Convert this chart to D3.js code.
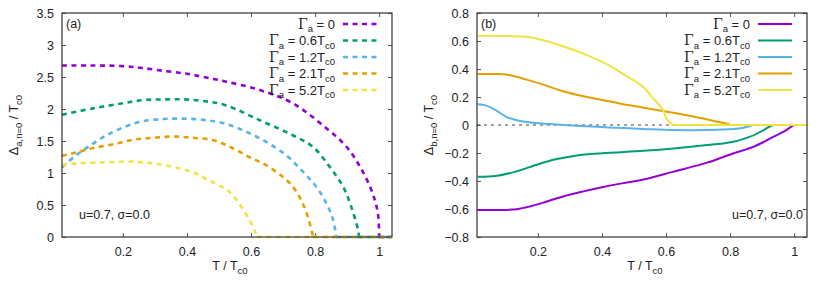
<!DOCTYPE html>
<html>
<head>
<meta charset="utf-8">
<script src="https://cdn.jsdelivr.net/npm/d3@7"></script>
<style>
  body { margin: 0; background: #fff; }
  svg { font-family: "Liberation Sans", Arial, sans-serif; }
</style>
</head>
<body>
<div id="chart"></div>
<script>
// legend labels / colours (gnuplot default palette)
const gammaLabels = ['0', '0.6', '1.2', '2.1', '5.2'];
const seriesColors = ['#9400d3', '#009e73', '#56b4e9', '#e69f00', '#f0e442'];

// panel (a): Delta_a vs T / Tc0
const tA0 = [0.01, 0.1, 0.2, 0.26, 0.337, 0.40, 0.452, 0.52, 0.625, 0.73, 0.835, 0.898, 0.94, 0.971, 0.988, 0.997, 1.0, 1.04];
const dA0 = [2.68, 2.68, 2.67, 2.64, 2.59, 2.55, 2.50, 2.43, 2.30, 2.09, 1.70, 1.41, 1.10, 0.79, 0.55, 0.33, 0, 0];
const tA1 = [0.01, 0.107, 0.2, 0.264, 0.327, 0.39, 0.452, 0.52, 0.625, 0.73, 0.793, 0.845, 0.887, 0.913, 0.934, 0.937, 1.04];
const dA1 = [1.91, 2.01, 2.09, 2.14, 2.15, 2.15, 2.125, 2.06, 1.83, 1.59, 1.41, 1.10, 0.79, 0.47, 0.11, 0, 0];
const tA2 = [0.01, 0.055, 0.107, 0.149, 0.2, 0.254, 0.316, 0.379, 0.452, 0.52, 0.583, 0.646, 0.709, 0.762, 0.803, 0.835, 0.856, 0.866, 1.04];
const dA2 = [1.09, 1.28, 1.46, 1.59, 1.71, 1.80, 1.84, 1.85, 1.83, 1.77, 1.65, 1.49, 1.28, 1.02, 0.79, 0.53, 0.27, 0, 0];
const tA3 = [0.01, 0.055, 0.107, 0.17, 0.233, 0.295, 0.358, 0.42, 0.484, 0.542, 0.594, 0.646, 0.699, 0.73, 0.756, 0.777, 0.791, 0.794, 1.04];
const dA3 = [1.27, 1.32, 1.39, 1.45, 1.52, 1.55, 1.57, 1.55, 1.51, 1.39, 1.25, 1.125, 0.94, 0.79, 0.58, 0.32, 0.06, 0, 0];
const tA4 = [0.01, 0.055, 0.107, 0.16, 0.222, 0.275, 0.327, 0.379, 0.42, 0.463, 0.505, 0.531, 0.562, 0.594, 0.615, 0.618, 1.04];
const dA4 = [1.125, 1.15, 1.16, 1.17, 1.18, 1.16, 1.125, 1.07, 1.01, 0.90, 0.79, 0.71, 0.53, 0.27, 0.06, 0, 0];

// panel (b): Delta_b vs T / Tc0
const tB0 = [0.012, 0.08, 0.135, 0.175, 0.214, 0.276, 0.339, 0.40, 0.463, 0.53, 0.624, 0.728, 0.811, 0.874, 0.936, 0.967, 0.988, 1.0, 1.04];
const dB0 = [-0.607, -0.607, -0.601, -0.582, -0.556, -0.512, -0.476, -0.445, -0.417, -0.39, -0.333, -0.269, -0.202, -0.155, -0.083, -0.048, -0.017, 0, 0];
const tB1 = [0.012, 0.068, 0.131, 0.193, 0.255, 0.318, 0.40, 0.53, 0.624, 0.728, 0.811, 0.863, 0.905, 0.926, 0.936, 1.04];
const dB1 = [-0.369, -0.364, -0.333, -0.286, -0.245, -0.219, -0.202, -0.184, -0.167, -0.143, -0.119, -0.083, -0.036, -0.007, 0, 0];
const tB2 = [0.012, 0.037, 0.068, 0.10, 0.131, 0.172, 0.234, 0.318, 0.421, 0.53, 0.624, 0.728, 0.811, 0.842, 0.863, 0.868, 1.04];
const dB2 = [0.148, 0.14, 0.107, 0.06, 0.036, 0.019, 0.007, -0.005, -0.017, -0.028, -0.036, -0.036, -0.029, -0.019, -0.005, 0, 0];
const tB3 = [0.012, 0.068, 0.11, 0.162, 0.214, 0.276, 0.339, 0.40, 0.463, 0.53, 0.603, 0.686, 0.749, 0.796, 0.80, 1.04];
const dB3 = [0.364, 0.364, 0.357, 0.326, 0.29, 0.243, 0.207, 0.179, 0.15, 0.124, 0.095, 0.06, 0.029, 0.005, 0, 0];
const tB4 = [0.012, 0.162, 0.214, 0.276, 0.339, 0.40, 0.463, 0.53, 0.551, 0.583, 0.593, 0.601, 0.614, 0.624, 1.04];
const dB4 = [0.638, 0.63, 0.607, 0.564, 0.512, 0.452, 0.369, 0.27, 0.214, 0.131, 0.095, 0.048, 0.012, 0, 0];

const xTicks = [0.2, 0.4, 0.6, 0.8, 1];
const yTicksA = [0, 0.5, 1, 1.5, 2, 2.5, 3, 3.5];
const yTicksB = [-0.8, -0.6, -0.4, -0.2, 0, 0.2, 0.4, 0.6, 0.8];

const width = 830, height = 291;
const svg = d3.select('#chart').append('svg')
  .attr('width', width)
  .attr('height', height);

function drawPanel(opts) {
  const g = svg.append('g').attr('transform', `translate(${opts.left}, 0)`);
  const plotW = 330, top = 13, bottom = 237;

  const x = d3.scaleLinear().domain([0.01, 1.04]).range([0, plotW]);
  const y = d3.scaleLinear().domain(opts.yDomain).range([bottom, top]);

  const ink = '#222';
  const tickLen = 4;

  // ticks (inward, mirrored like gnuplot)
  g.append('g').attr('transform', `translate(0, ${bottom})`)
    .call(d3.axisBottom(x).tickValues(xTicks).tickSize(-tickLen).tickPadding(10)
      .tickFormat(d => d3.format('')(d)));
  g.append('g').attr('transform', `translate(0, ${top})`)
    .call(d3.axisTop(x).tickValues(xTicks).tickSize(-tickLen).tickFormat(''));
  g.append('g')
    .call(d3.axisLeft(y).tickValues(opts.yTicks).tickSize(-tickLen).tickPadding(8)
      .tickFormat(d => d3.format('')(d).replace('-', '\u2212')));
  g.append('g').attr('transform', `translate(${plotW}, 0)`)
    .call(d3.axisRight(y).tickValues(opts.yTicks).tickSize(-tickLen).tickFormat(''));

  g.selectAll('.domain').remove();
  g.selectAll('.tick line').attr('stroke', '#555');
  g.selectAll('.tick text').attr('fill', ink).attr('font-size', 12.5);

  if (opts.zeroLine) {
    g.append('line')
      .attr('x1', 0).attr('x2', plotW)
      .attr('y1', y(0)).attr('y2', y(0))
      .attr('stroke', '#444').attr('stroke-width', 1)
      .attr('stroke-dasharray', '3,4');
  }

  const curve = d3.line()
    .x(d => x(d[0]))
    .y(d => y(d[1]))
    .curve(d3.curveCatmullRom.alpha(0.5));
  const flat = d3.line()
    .x(d => x(d[0]))
    .y(d => y(d[1]));

  opts.series.forEach((s, i) => {
    const pts = d3.zip(s[0], s[1]);
    const iz = s[1].indexOf(0);
    [[curve, pts.slice(0, iz + 1)], [flat, pts.slice(iz)]].forEach(([gen, seg]) => {
      g.append('path')
        .datum(seg)
        .attr('d', gen)
        .attr('fill', 'none')
        .attr('stroke', seriesColors[i])
        .attr('stroke-width', opts.dashed ? 2.6 : 2)
        .attr('stroke-dasharray', opts.dashed ? '5,4.5' : null);
    });
  });

  // frame
  g.append('rect')
    .attr('x', 0).attr('y', top)
    .attr('width', plotW).attr('height', bottom - top)
    .attr('fill', 'none').attr('stroke', '#333').attr('stroke-width', 1.2);

  // legend
  gammaLabels.forEach((lab, i) => {
    const ly = 24 + i * 16.5;
    const t = g.append('text')
      .attr('x', 273).attr('y', ly + 4.5)
      .attr('text-anchor', 'end')
      .attr('font-size', 13).attr('fill', ink);
    t.append('tspan').attr('font-family', '"DejaVu Serif", serif').attr('font-size', 14).text('\u0393');
    t.append('tspan').attr('font-size', 9.5).attr('dy', 3.5).text('a');
    if (lab === '0') {
      t.append('tspan').attr('dy', -3.5).text(' = 0');
    } else {
      t.append('tspan').attr('dy', -3.5).text(` = ${lab}T`);
      t.append('tspan').attr('font-size', 9.5).attr('dy', 3.5).text('c0');
    }
    g.append('line')
      .attr('x1', 281).attr('x2', 315)
      .attr('y1', ly).attr('y2', ly)
      .attr('stroke', seriesColors[i])
      .attr('stroke-width', opts.dashed ? 2.6 : 2)
      .attr('stroke-dasharray', opts.dashed ? '5,4.5' : null);
  });

  g.append('text')
    .attr('x', 4).attr('y', 28)
    .attr('font-size', 12.5).attr('fill', ink)
    .text(opts.tag);

  g.append('text')
    .attr('x', opts.noteX).attr('y', 219)
    .attr('text-anchor', opts.noteAnchor)
    .attr('font-size', 12.5).attr('fill', ink)
    .text('u=0.7, \u03c3=0.0');

  // x label
  const xl = g.append('text')
    .attr('x', plotW / 2 + 3).attr('y', 270)
    .attr('text-anchor', 'middle')
    .attr('font-size', 12.5).attr('fill', ink);
  xl.append('tspan').text('T / T');
  xl.append('tspan').attr('font-size', 9.5).attr('dy', 3.5).text('c0');

  // y label
  const yl = g.append('text')
    .attr('transform', `translate(${-44}, ${(top + bottom) / 2}) rotate(-90)`)
    .attr('text-anchor', 'middle')
    .attr('font-size', 12.5).attr('fill', ink);
  yl.append('tspan').text('\u0394');
  yl.append('tspan').attr('font-size', 9.5).attr('dy', 3.5).text(opts.sub);
  yl.append('tspan').attr('dy', -3.5).text(' / T');
  yl.append('tspan').attr('font-size', 9.5).attr('dy', 3.5).text('c0');
}

drawPanel({
  left: 62,
  yDomain: [0, 3.5],
  yTicks: yTicksA,
  dashed: true,
  zeroLine: false,
  tag: '(a)',
  sub: 'a,n=0',
  noteX: 17, noteAnchor: 'start',
  series: [[tA0, dA0], [tA1, dA1], [tA2, dA2], [tA3, dA3], [tA4, dA4]]
});

drawPanel({
  left: 477,
  yDomain: [-0.8, 0.8],
  yTicks: yTicksB,
  dashed: false,
  zeroLine: true,
  tag: '(b)',
  sub: 'b,n=0',
  noteX: 326, noteAnchor: 'end',
  series: [[tB0, dB0], [tB1, dB1], [tB2, dB2], [tB3, dB3], [tB4, dB4]]
});
</script>
</body>
</html>
